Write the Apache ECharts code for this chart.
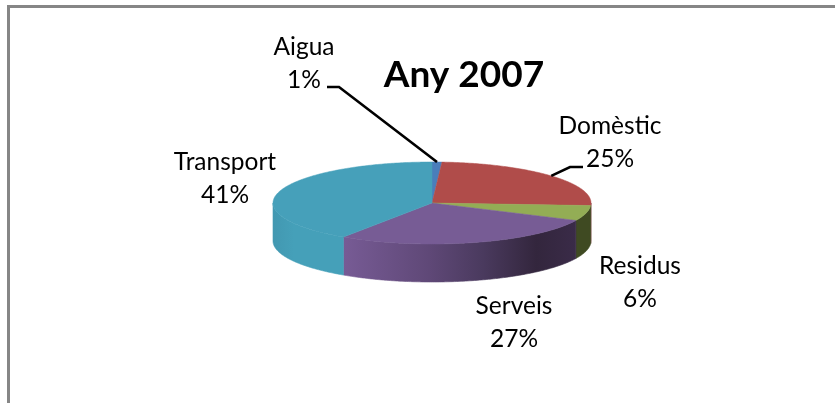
<!DOCTYPE html>
<html>
<head>
<meta charset="utf-8">
<style>html,body{margin:0;padding:0;background:#fff}#c{width:835px;height:403px}</style>
<script src="https://cdn.jsdelivr.net/npm/echarts@6/dist/echarts.min.js"></script>
</head>
<body>
<div id="c"></div>
<script>
const categories = ['Aigua', 'Domèstic', 'Residus', 'Serveis', 'Transport'];
const shares = [1, 25, 6, 27.4, 40.6];
const chartTitle = 'Any 2007';

const topColors = ['#4A7EBB', '#B04C4A', '#93AD55', '#775C95', '#46A0BA'];
const wallStops = [
  [[0, '#35608F']],
  [[0, '#6B2D2C']],
  [[0, '#3F4A22']],
  [[0, '#775B95'], [0.37, '#5F4877'], [0.6, '#4A3A5E'], [0.83, '#33263D'], [1, '#3A2B48']],
  [[0, '#4298B1'], [0.3, '#45A0B9'], [1, '#45A0B9']]
];
const labelPos = [[304, 47], [610, 126], [640, 266], [514, 306], [225, 162]];
const leaderElbows = [[[339, 87], [327, 87]], [[570, 167], [583, 167]], null, null, null];

const CX = 432, CY = 203, RX = 159, RY = 41, DEPTH = 38, LINE_GAP = 33;
const total = shares.reduce((a, b) => a + b, 0);
const rad = d => d * Math.PI / 180;
const pt = (deg, dy) => [CX + RX * Math.sin(rad(deg)), CY - RY * Math.cos(rad(deg)) + (dy || 0)];
function arc(a0, a1, dy) {
  const n = Math.max(2, Math.ceil((a1 - a0) * 1.5)), out = [];
  for (let i = 0; i <= n; i++) out.push(pt(a0 + (a1 - a0) * i / n, dy));
  return out;
}
const seriesData = shares.map((v, i) => ({name: categories[i], value: v}));

const chart = echarts.init(document.getElementById('c'), null, {renderer: 'canvas'});
chart.setOption({
  animation: false,
  backgroundColor: '#fff',
  title: {
    text: chartTitle, left: 459, top: 52, textAlign: 'center',
    textStyle: {fontFamily: 'Lato', fontWeight: 'bold', fontSize: 37, color: '#000'}
  },
  graphic: [
    {type: 'rect', shape: {x: 7, y: 5, width: 3, height: 398}, style: {fill: '#868686'}, silent: true},
    {type: 'rect', shape: {x: 7, y: 5, width: 828, height: 3}, style: {fill: '#868686'}, silent: true}
  ],
  series: [{
    type: 'custom',
    coordinateSystem: 'none',
    silent: true,
    z: 2,
    data: seriesData,
    renderItem(params, api) {
      const i = params.dataIndex;
      const before = shares.slice(0, i).reduce((a, b) => a + b, 0);
      const a0 = before / total * 360, a1 = (before + api.value(0)) / total * 360;
      // side wall: only the front half of the disc (90..270 degrees) is visible
      const w0 = Math.max(a0, 90), w1 = Math.min(a1, 270);
      if (w1 <= w0) return {type: 'group', children: []};
      const top = arc(w0, w1, 0), bottom = arc(w0, w1, DEPTH).reverse();
      const x0 = top[0][0], x1 = top[top.length - 1][0];
      const stops = wallStops[i].length > 1 ? wallStops[i] : [[0, wallStops[i][0][1]], [1, wallStops[i][0][1]]];
      const grad = new echarts.graphic.LinearGradient(Math.min(x0, x1), 0, Math.max(x0, x1), 0,
        stops.map(s => ({offset: s[0], color: s[1]})), true);
      return {
        type: 'polygon',
        shape: {points: top.concat(bottom)},
        style: {fill: grad, stroke: grad, lineWidth: 0.6}
      };
    }
  }, {
    type: 'custom',
    coordinateSystem: 'none',
    silent: true,
    z: 3,
    data: seriesData,
    renderItem(params, api) {
      const i = params.dataIndex;
      const before = shares.slice(0, i).reduce((a, b) => a + b, 0);
      const a0 = before / total * 360, a1 = (before + api.value(0)) / total * 360;
      return {
        type: 'polygon',
        shape: {points: [[CX, CY]].concat(arc(a0, a1, 0))},
        style: {fill: topColors[i], stroke: topColors[i], lineWidth: 0.5}
      };
    }
  }, {
    type: 'custom',
    coordinateSystem: 'none',
    silent: true,
    z: 4,
    data: seriesData,
    renderItem(params, api) {
      const i = params.dataIndex;
      const before = shares.slice(0, i).reduce((a, b) => a + b, 0);
      const v = api.value(0);
      const mid = (before + v / 2) / total * 360;
      const children = [];
      const [lx, ly] = labelPos[i];
      const font = {fontFamily: 'Lato', fontSize: 24.5, fill: '#000', align: 'center', verticalAlign: 'middle'};
      children.push({type: 'text', style: Object.assign({text: categories[i], x: lx, y: ly}, font)});
      children.push({type: 'text', style: Object.assign({text: Math.round(v) + '%', x: lx, y: ly + LINE_GAP}, font)});
      if (leaderElbows[i]) {
        children.push({
          type: 'polyline',
          shape: {points: [pt(mid)].concat(leaderElbows[i])},
          style: {stroke: '#000', lineWidth: 2.6, fill: null}
        });
      }
      return {type: 'group', children};
    }
  }]
});
</script>
</body>
</html>
